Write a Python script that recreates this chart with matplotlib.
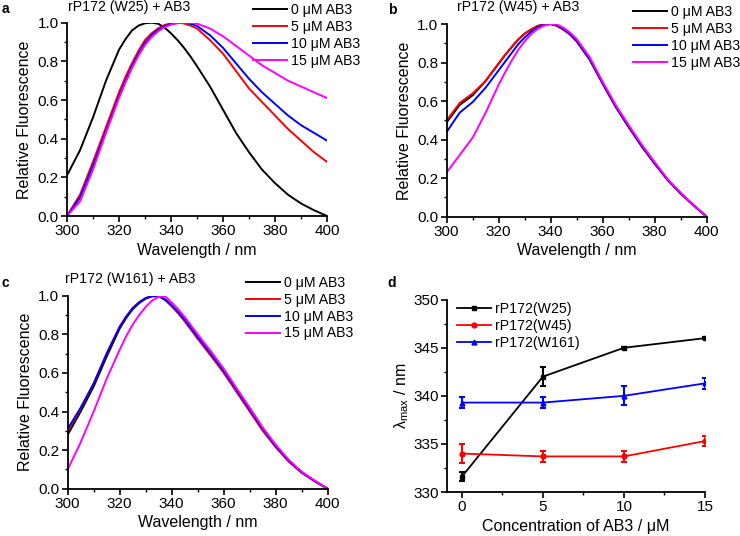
import matplotlib
matplotlib.use("Agg")
import matplotlib.pyplot as plt
from matplotlib.ticker import MultipleLocator, FormatStrFormatter

plt.rcParams['font.family'] = ['Liberation Sans', 'DejaVu Sans']
plt.rcParams['mathtext.fontset'] = 'custom'
plt.rcParams['mathtext.rm'] = 'Liberation Sans'
plt.rcParams['mathtext.it'] = 'Liberation Sans:italic'
plt.rcParams['mathtext.default'] = 'regular'

# wavelength grid (nm) shared by the spectra, finer around the maxima
wl = [300, 305, 310, 315, 320, 322.5, 325, 327.5, 330, 332.5, 335, 337.5,
      340, 342.5, 345, 347.5, 350, 355, 360, 365, 370, 375, 380, 385, 390, 395, 400]

conc_labels = ['0 μM AB3', '5 μM AB3', '10 μM AB3', '15 μM AB3']
colors = ['#000000', '#ff0000', '#0000ff', '#ff00ff']

# panel a: rP172 (W25)
a_0 = [0.21, 0.34, 0.51, 0.70, 0.86, 0.915, 0.96, 0.985, 0.997, 1.0, 0.995, 0.975,
       0.945, 0.91, 0.87, 0.825, 0.775, 0.67, 0.55, 0.43, 0.33, 0.24, 0.17, 0.11,
       0.065, 0.03, 0.0]
a_5 = [0.0, 0.11, 0.28, 0.46, 0.64, 0.72, 0.79, 0.855, 0.91, 0.945, 0.97, 0.988,
       0.997, 1.0, 0.996, 0.985, 0.97, 0.91, 0.84, 0.75, 0.66, 0.59, 0.52, 0.45,
       0.39, 0.33, 0.28]
a_10 = [0.0, 0.095, 0.26, 0.44, 0.62, 0.70, 0.775, 0.84, 0.895, 0.935, 0.963, 0.982,
        0.994, 0.999, 1.0, 0.995, 0.983, 0.935, 0.87, 0.79, 0.71, 0.64, 0.58, 0.52,
        0.47, 0.43, 0.39]
a_15 = [0.0, 0.075, 0.24, 0.43, 0.61, 0.69, 0.765, 0.83, 0.885, 0.925, 0.955, 0.977,
        0.99, 0.997, 1.0, 1.0, 0.995, 0.97, 0.93, 0.88, 0.83, 0.78, 0.74, 0.70,
        0.67, 0.64, 0.61]

# panel b: rP172 (W45)
b_0 = [0.49, 0.58, 0.63, 0.705, 0.795, 0.84, 0.88, 0.92, 0.95, 0.972, 0.99, 0.998,
       1.0, 0.99, 0.97, 0.945, 0.91, 0.815, 0.69, 0.57, 0.465, 0.365, 0.275, 0.19,
       0.12, 0.058, 0.0]
b_5 = [0.50, 0.59, 0.64, 0.705, 0.795, 0.84, 0.88, 0.92, 0.95, 0.972, 0.99, 0.998,
       1.0, 0.99, 0.97, 0.945, 0.91, 0.815, 0.69, 0.57, 0.465, 0.365, 0.275, 0.19,
       0.12, 0.058, 0.0]
b_10 = [0.44, 0.54, 0.595, 0.67, 0.76, 0.805, 0.85, 0.895, 0.93, 0.96, 0.983, 0.995,
        1.0, 0.993, 0.973, 0.948, 0.913, 0.818, 0.693, 0.573, 0.468, 0.368, 0.278,
        0.192, 0.122, 0.059, 0.0]
b_15 = [0.23, 0.32, 0.41, 0.54, 0.685, 0.75, 0.81, 0.865, 0.91, 0.948, 0.975, 0.992,
        1.0, 0.997, 0.98, 0.955, 0.922, 0.828, 0.70, 0.58, 0.475, 0.375, 0.283, 0.195,
        0.124, 0.06, 0.0]

# panel c: rP172 (W161)
c_0 = [0.28, 0.40, 0.53, 0.685, 0.83, 0.885, 0.93, 0.962, 0.985, 0.997, 0.998, 0.98,
       0.95, 0.915, 0.875, 0.83, 0.785, 0.70, 0.61, 0.51, 0.41, 0.31, 0.22, 0.145,
       0.085, 0.04, 0.0]
c_5 = [0.30, 0.415, 0.545, 0.70, 0.84, 0.893, 0.937, 0.967, 0.988, 0.998, 0.997, 0.977,
       0.945, 0.908, 0.867, 0.822, 0.776, 0.69, 0.60, 0.50, 0.40, 0.30, 0.215, 0.14,
       0.082, 0.038, 0.0]
c_10 = [0.31, 0.42, 0.545, 0.70, 0.838, 0.89, 0.935, 0.965, 0.987, 0.998, 0.998, 0.98,
        0.95, 0.915, 0.875, 0.83, 0.785, 0.70, 0.61, 0.51, 0.41, 0.31, 0.22, 0.145,
        0.085, 0.04, 0.0]
c_15 = [0.10, 0.24, 0.40, 0.57, 0.72, 0.79, 0.85, 0.90, 0.942, 0.975, 0.995, 0.997,
        0.965, 0.93, 0.89, 0.845, 0.80, 0.713, 0.622, 0.52, 0.42, 0.318, 0.228, 0.15,
        0.088, 0.042, 0.0]

# panel d: lambda max vs AB3 concentration
conc = [0, 5, 10, 15]
w25 = [331.6, 342.0, 345.0, 346.0]
w25_err = [0.5, 1.0, 0.1, 0.1]
w45 = [334.0, 333.7, 333.7, 335.3]
w45_err = [1.0, 0.55, 0.55, 0.55]
w161 = [339.3, 339.3, 340.0, 341.3]
w161_err = [0.6, 0.6, 1.0, 0.6]

W, H = 740, 536
fig = plt.figure(figsize=(W / 100, H / 100), dpi=100)


def px_axes(left, top, right, bottom):
    return fig.add_axes([left / W, 1 - bottom / H, (right - left) / W, (bottom - top) / H])


def style(ax):
    for s in ['top', 'right']:
        ax.spines[s].set_visible(False)
    for s in ['left', 'bottom']:
        ax.spines[s].set_linewidth(1.3)
    ax.tick_params(which='major', length=4, width=1.2, labelsize=11, pad=2)
    ax.tick_params(which='minor', length=2.5, width=1.0)


def legend_at(ax, x, y):
    ax.legend(loc='upper left', bbox_to_anchor=(x / W, 1 - y / H),
              bbox_transform=fig.transFigure, frameon=False, fontsize=10.2,
              borderpad=0, borderaxespad=0, handlelength=2.4, handletextpad=0.25,
              labelspacing=0.2, numpoints=1)


def spectrum_panel(ax, series, title, letter, tpos, lpos, legpos):
    for ys, c, lab in zip(series, colors, conc_labels):
        ax.plot(wl, ys, color=c, lw=1.4, label=lab)
    ax.set_xlim(300, 400)
    ax.set_ylim(0, 1.0)
    ax.xaxis.set_major_locator(MultipleLocator(20))
    ax.xaxis.set_minor_locator(MultipleLocator(10))
    ax.yaxis.set_major_locator(MultipleLocator(0.2))
    ax.yaxis.set_minor_locator(MultipleLocator(0.1))
    ax.yaxis.set_major_formatter(FormatStrFormatter('%.1f'))
    style(ax)
    ax.set_xlabel('Wavelength / nm', fontsize=11.5, labelpad=3)
    ax.set_ylabel('Relative Fluorescence', fontsize=11.5, labelpad=4)
    fig.text(tpos[0] / W, 1 - tpos[1] / H, title, fontsize=10.2, va='center', ha='left')
    fig.text(lpos[0] / W, 1 - lpos[1] / H, letter, fontsize=10, fontweight='bold',
             va='center', ha='left')
    legend_at(ax, *legpos)


ax_a = px_axes(67, 22.7, 327, 216)
spectrum_panel(ax_a, [a_0, a_5, a_10, a_15], 'rP172 (W25) + AB3', 'a',
               (68, 7), (2, 9), (253, 3))

ax_b = px_axes(446.7, 24, 706.7, 216.7)
spectrum_panel(ax_b, [b_0, b_5, b_10, b_15], 'rP172 (W45) + AB3', 'b',
               (457, 7.5), (388, 10), (633, 5))

ax_c = px_axes(67.7, 295.7, 327.7, 488.7)
spectrum_panel(ax_c, [c_0, c_5, c_10, c_15], 'rP172 (W161) + AB3', 'c',
               (65, 279), (2, 283), (246, 276))

ax_d = px_axes(447.3, 299.7, 705, 492)
for ys, err, c, m, lab in [(w25, w25_err, '#000000', 's', 'rP172(W25)'),
                           (w45, w45_err, '#ff0000', 'o', 'rP172(W45)'),
                           (w161, w161_err, '#0000ff', '^', 'rP172(W161)')]:
    ax_d.errorbar(conc, ys, yerr=err, fmt='none', ecolor=c, elinewidth=1.5,
                  capsize=2.5, capthick=1.5)
    ax_d.plot(conc, ys, color=c, lw=1.3, marker=m, ms=3.5, label=lab)
ax_d.set_xlim(-0.9, 15)
ax_d.set_ylim(330, 350)
ax_d.xaxis.set_major_locator(MultipleLocator(5))
ax_d.xaxis.set_minor_locator(MultipleLocator(2.5))
ax_d.yaxis.set_major_locator(MultipleLocator(5))
ax_d.yaxis.set_minor_locator(MultipleLocator(2.5))
style(ax_d)
ax_d.set_xlabel('Concentration of AB3 / μM', fontsize=11.5, labelpad=3)
ax_d.set_ylabel(r'$\lambda_{max}$ / nm', fontsize=11.5, labelpad=2)
fig.text(387 / W, 1 - 283 / H, 'd', fontsize=10, fontweight='bold', va='center', ha='left')
legend_at(ax_d, 457, 302)

fig.savefig('out.png', dpi=100)
